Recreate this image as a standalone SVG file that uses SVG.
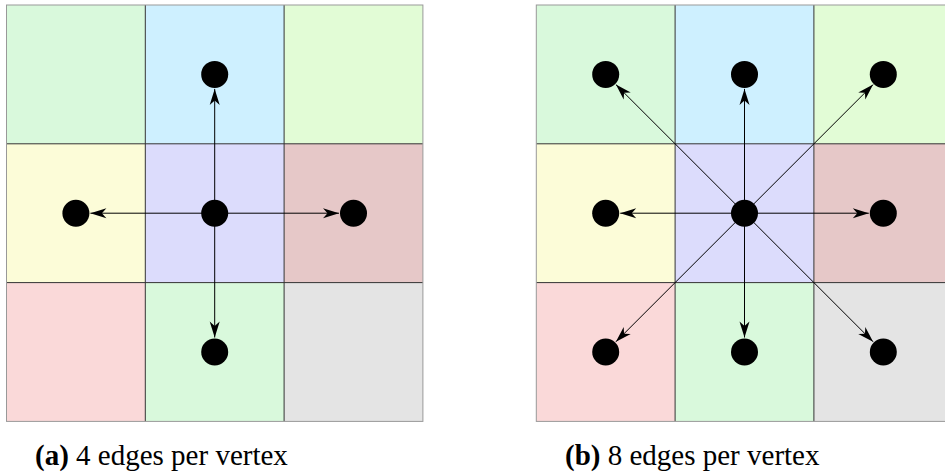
<svg xmlns="http://www.w3.org/2000/svg" width="945" height="474" viewBox="0 0 945 474">
  <defs>
    <style>
      .g1 { fill: #d9f9dc; }
      .bl { fill: #cef0ff; }
      .g2 { fill: #e2fcd6; }
      .ye { fill: #fcfcd8; }
      .la { fill: #dcdcfc; }
      .ro { fill: #e6c8c8; }
      .pk { fill: #fad9d9; }
      .gr { fill: #e4e4e4; }
      .grid { fill: none; stroke: #333; stroke-width: 1; }
      .edge { fill: none; stroke: #000; stroke-width: 1; marker-end: url(#stealth); }
      .dot { fill: #000; }
      .cap { font-family: "Liberation Serif", "Times New Roman", serif; font-size: 29px; fill: #000; }
      .cap .b { font-weight: bold; }
    </style>
    <marker id="stealth" markerUnits="userSpaceOnUse" viewBox="-17 -6 18 12" markerWidth="18" markerHeight="12" refX="0" refY="0" orient="auto" overflow="visible">
      <path d="M0,0 L-16,-5 L-11.5,0 L-16,5 Z" fill="#000"/>
    </marker>
  </defs>

  <!-- Panel (a): 3x3 cell grid, 4-neighbourhood -->
  <g id="panel-a-cells">
    <rect class="g1" x="6.5" y="5" width="138.8" height="138.8"/>
    <rect class="bl" x="145.3" y="5" width="138.8" height="138.8"/>
    <rect class="g2" x="284.1" y="5" width="138.8" height="138.8"/>
    <rect class="ye" x="6.5" y="143.8" width="138.8" height="138.8"/>
    <rect class="la" x="145.3" y="143.8" width="138.8" height="138.8"/>
    <rect class="ro" x="284.1" y="143.8" width="138.8" height="138.8"/>
    <rect class="pk" x="6.5" y="282.6" width="138.8" height="138.8"/>
    <rect class="g1" x="145.3" y="282.6" width="138.8" height="138.8"/>
    <rect class="gr" x="284.1" y="282.6" width="138.8" height="138.8"/>
    <path class="grid" d="M145.3,5 V421.4 M284.1,5 V421.4 M6.5,143.8 H422.9 M6.5,282.6 H422.9"/>
    <rect x="6.5" y="5" width="416.4" height="416.4" fill="none" stroke="#999" stroke-width="1"/>
  </g>

  <!-- Panel (b): 3x3 cell grid, 8-neighbourhood -->
  <g id="panel-b-cells">
    <rect class="g1" x="536.3" y="5" width="138.8" height="138.8"/>
    <rect class="bl" x="675.1" y="5" width="138.8" height="138.8"/>
    <rect class="g2" x="813.9" y="5" width="138.8" height="138.8"/>
    <rect class="ye" x="536.3" y="143.8" width="138.8" height="138.8"/>
    <rect class="la" x="675.1" y="143.8" width="138.8" height="138.8"/>
    <rect class="ro" x="813.9" y="143.8" width="138.8" height="138.8"/>
    <rect class="pk" x="536.3" y="282.6" width="138.8" height="138.8"/>
    <rect class="g1" x="675.1" y="282.6" width="138.8" height="138.8"/>
    <rect class="gr" x="813.9" y="282.6" width="138.8" height="138.8"/>
    <path class="grid" d="M675.1,5 V421.4 M813.9,5 V421.4 M536.3,143.8 H952.7 M536.3,282.6 H952.7"/>
    <rect x="536.3" y="5" width="416.4" height="416.4" fill="none" stroke="#999" stroke-width="1"/>
  </g>

  <!-- Edges from each centre vertex to its neighbours -->
  <g id="connectors">
    <line class="edge" x1="214.7" y1="213.2" x2="214.7" y2="88.9"/>
    <line class="edge" x1="214.7" y1="213.2" x2="214.7" y2="337.5"/>
    <line class="edge" x1="214.7" y1="213.2" x2="90.4" y2="213.2"/>
    <line class="edge" x1="214.7" y1="213.2" x2="339" y2="213.2"/>

    <line class="edge" x1="744.5" y1="213.2" x2="744.5" y2="88.9"/>
    <line class="edge" x1="744.5" y1="213.2" x2="744.5" y2="337.5"/>
    <line class="edge" x1="744.5" y1="213.2" x2="620.2" y2="213.2"/>
    <line class="edge" x1="744.5" y1="213.2" x2="868.8" y2="213.2"/>
    <line class="edge" x1="744.5" y1="213.2" x2="615.9" y2="84.6"/>
    <line class="edge" x1="744.5" y1="213.2" x2="873.1" y2="84.6"/>
    <line class="edge" x1="744.5" y1="213.2" x2="615.9" y2="341.8"/>
    <line class="edge" x1="744.5" y1="213.2" x2="873.1" y2="341.8"/>
  </g>

  <!-- Vertices, panel (a) -->
  <g id="a-center"><circle class="dot" cx="214.7" cy="213.2" r="13.5"/></g>
  <g id="a-n"><circle class="dot" cx="214.7" cy="74.4" r="13.5"/></g>
  <g id="a-s"><circle class="dot" cx="214.7" cy="352" r="13.5"/></g>
  <g id="a-w"><circle class="dot" cx="75.9" cy="213.2" r="13.5"/></g>
  <g id="a-e"><circle class="dot" cx="353.5" cy="213.2" r="13.5"/></g>

  <!-- Vertices, panel (b) -->
  <g id="b-center"><circle class="dot" cx="744.5" cy="213.2" r="13.5"/></g>
  <g id="b-n"><circle class="dot" cx="744.5" cy="74.4" r="13.5"/></g>
  <g id="b-s"><circle class="dot" cx="744.5" cy="352" r="13.5"/></g>
  <g id="b-w"><circle class="dot" cx="605.7" cy="213.2" r="13.5"/></g>
  <g id="b-e"><circle class="dot" cx="883.3" cy="213.2" r="13.5"/></g>
  <g id="b-nw"><circle class="dot" cx="605.7" cy="74.4" r="13.5"/></g>
  <g id="b-ne"><circle class="dot" cx="883.3" cy="74.4" r="13.5"/></g>
  <g id="b-sw"><circle class="dot" cx="605.7" cy="352" r="13.5"/></g>
  <g id="b-se"><circle class="dot" cx="883.3" cy="352" r="13.5"/></g>

  <!-- Captions -->
  <text class="cap" x="35" y="465"><tspan class="b">(a)</tspan> 4 edges per vertex</text>
  <text class="cap" x="565" y="465"><tspan class="b">(b)</tspan> 8 edges per vertex</text>
</svg>
